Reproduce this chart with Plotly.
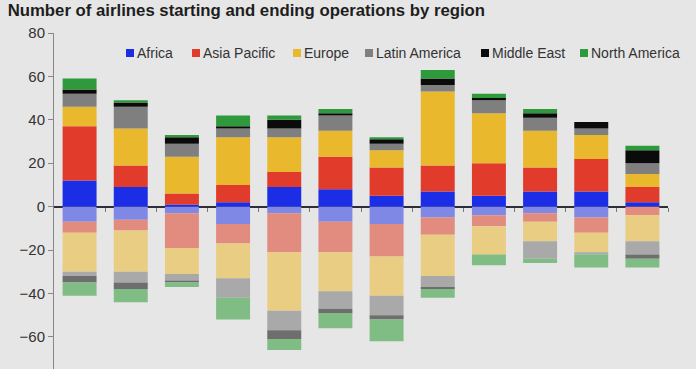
import plotly.graph_objects as go

# ---- data ----
periods = list(range(12))  # 12 periods; x labels are not visible in the reference
regions = ["Africa", "Asia Pacific", "Europe", "Latin America", "Middle East", "North America"]

start_africa = [12, 9, 1, 2, 9, 8, 5, 7, 5, 7, 7, 2]
start_asia_pacific = [25, 10, 5, 8, 7, 15, 13, 12, 15, 11, 15, 7]
start_europe = [9, 17, 17, 22, 16, 12, 8, 34, 23, 17, 11, 6]
start_latin_america = [6, 10, 6, 4, 4, 7, 3, 3, 6, 6, 3, 5]
start_middle_east = [2, 2, 3, 1, 4, 1, 2, 3, 1, 2, 3, 6]
start_north_america = [5, 1, 1, 5, 2, 2, 1, 4, 2, 2, 0, 2]

end_africa = [7, 6, 3, 8, 3, 7, 8, 5, 4, 3, 5, 0]
end_asia_pacific = [5, 5, 16, 9, 18, 14, 15, 8, 5, 4, 7, 4]
end_europe = [18, 19, 12, 16, 27, 18, 18, 19, 13, 9, 9, 12]
end_latin_america = [2, 5, 3, 9, 9, 8, 9, 5, 0, 8, 1, 6]
end_middle_east = [3, 3, 1, 0, 4, 2, 2, 1, 0, 0, 0, 2]
end_north_america = [6, 6, 2, 10, 5, 7, 10, 4, 5, 2, 6, 4]

y_ticks = [-60, -40, -20, 0, 20, 40, 60, 80]

# ---- styles ----
dark_colors = ["#1c2de6", "#e03b2b", "#e9b82c", "#7f7f7f", "#0b0b0b", "#2f9a3b"]
light_colors = ["#7f88e4", "#e28b7f", "#e9cd82", "#a9a9a9", "#6e6e6e", "#80bd84"]
BG = "#e6e6e6"

starts = [start_africa, start_asia_pacific, start_europe, start_latin_america,
          start_middle_east, start_north_america]
ends = [end_africa, end_asia_pacific, end_europe, end_latin_america,
        end_middle_east, end_north_america]

fig = go.Figure()
for name, vals, col in zip(regions, starts, dark_colors):
    fig.add_trace(go.Bar(x=periods, y=vals, name=name, marker=dict(color=col, line=dict(width=0)),
                         showlegend=False))
for name, vals, col in zip(regions, ends, light_colors):
    fig.add_trace(go.Bar(x=periods, y=[-v for v in vals], name=name + " (ending)",
                         marker=dict(color=col, line=dict(width=0)), showlegend=False))

# invisible helper trace so the tick axis at y=0 is drawn
boundaries = [p + 0.5 for p in periods]
fig.add_trace(go.Scatter(x=boundaries, y=[0] * len(boundaries), mode="none", xaxis="x2",
                         hoverinfo="skip", showlegend=False))

y_min, y_max = -74.8, 80
FONT = "Liberation Sans, Arial, sans-serif"

fig.update_layout(
    width=696, height=369,
    margin=dict(l=54, r=28, t=33, b=0),
    paper_bgcolor=BG, plot_bgcolor=BG,
    barmode="relative", bargap=0.336,
    font=dict(family=FONT, color="#333333"),
    title=dict(text="<b>Number of airlines starting and ending operations by region</b>",
               font=dict(family=FONT, size=16.75, color="#1e1e1e"),
               xref="container", x=0.011, xanchor="left",
               yref="container", y=1 - 10 / 369, yanchor="middle"),
    xaxis=dict(range=[-0.5, 11.5], showticklabels=False, showgrid=False, zeroline=False,
               showline=False, ticks=""),
    xaxis2=dict(overlaying="x", anchor="free", position=(0 - y_min) / (y_max - y_min),
                range=[-0.5, 11.5], tickvals=boundaries, ticks="outside", ticklen=4,
                tickcolor="#777777", tickwidth=1, showticklabels=False, showgrid=False,
                zeroline=False, showline=False),
    yaxis=dict(range=[y_min, y_max], tickvals=y_ticks, ticks="outside", ticklen=5,
               tickcolor="#888888", showline=True, linecolor="#888888", linewidth=1,
               showgrid=False, zeroline=True, zerolinecolor="#2e2e3a", zerolinewidth=1.5,
               tickfont=dict(size=15, color="#333333"), layer="above traces"),
)

# legend drawn as annotations: a coloured square box followed by its label
legend_px = [126, 191.5, 293, 365, 481, 580]
plot_l, plot_t, plot_w, plot_h = 54, 33, 614, 336
legend_y = 1 - (52.5 - plot_t) / plot_h
for name, col, px in zip(regions, dark_colors, legend_px):
    fig.add_annotation(
        text=" ", width=8, height=8, bgcolor=col, borderwidth=0, borderpad=0,
        xref="paper", yref="paper", x=(px - plot_l) / plot_w, y=legend_y,
        xanchor="left", yanchor="middle", showarrow=False, font=dict(size=1),
    )
    fig.add_annotation(
        text=name,
        xref="paper", yref="paper", x=(px + 9 - plot_l) / plot_w, y=legend_y,
        xanchor="left", yanchor="middle", showarrow=False,
        font=dict(family=FONT, size=14, color="#333333"),
    )

# remove the browser's default 8px page margin so the figure sits at the window's corner
fig.write_html("out.html", config={"displayModeBar": False},
               post_script="document.body.style.margin='0';")
